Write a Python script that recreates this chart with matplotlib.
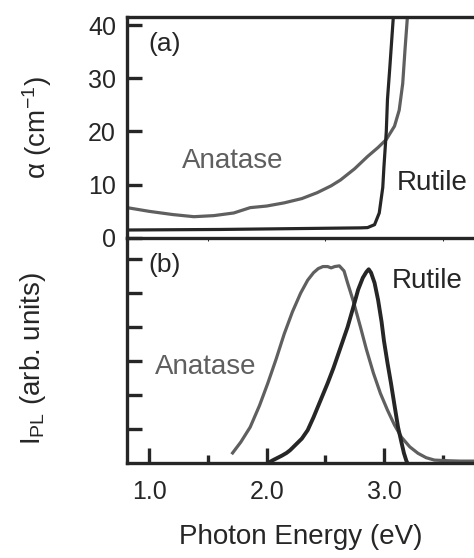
import numpy as np
import matplotlib
matplotlib.use('Agg')
import matplotlib.pyplot as plt

plt.rcParams['font.family'] = ['Liberation Sans', 'DejaVu Sans']
plt.rcParams['mathtext.fontset'] = 'custom'
plt.rcParams['mathtext.rm'] = 'Liberation Sans'
plt.rcParams['mathtext.it'] = 'Liberation Sans:italic'

# absorption (top panel), photon energy in eV, alpha in cm^-1
rutile_abs_e = [0.81, 1.2, 1.6, 2.0, 2.4, 2.8, 2.86, 2.92, 2.96, 2.99, 3.0, 3.02, 3.03, 3.05, 3.08, 3.1]
rutile_abs_a = [1.5, 1.55, 1.6, 1.7, 1.8, 1.9, 1.95, 2.5, 4.7, 9.5, 13.4, 20.0, 26.0, 32.0, 41.5, 45.0]
anatase_abs_e = [0.81, 1.0, 1.2, 1.38, 1.55, 1.72, 1.86, 2.0, 2.15, 2.3, 2.43, 2.55, 2.63, 2.75, 2.86,
                 2.95, 3.02, 3.09, 3.13, 3.16, 3.18, 3.2, 3.21]
anatase_abs_a = [5.7, 5.0, 4.4, 4.0, 4.2, 4.7, 5.7, 6.0, 6.6, 7.4, 8.5, 9.8, 10.9, 13.0, 15.3,
                 17.0, 18.5, 21.0, 24.0, 29.0, 35.5, 41.5, 45.0]

# photoluminescence (bottom panel), arb. units
anatase_pl_e = [1.71, 1.78, 1.86, 1.94, 2.01, 2.08, 2.15, 2.22, 2.29, 2.35, 2.40, 2.44, 2.48, 2.52, 2.55,
                2.58, 2.62, 2.66, 2.69, 2.74, 2.80, 2.85, 2.91, 2.97, 3.03, 3.09, 3.15, 3.22, 3.29,
                3.36, 3.43, 3.55, 3.65, 3.78]
anatase_pl_i = [0.30, 0.62, 1.06, 1.70, 2.35, 3.05, 3.80, 4.45, 5.00, 5.38, 5.60, 5.72, 5.78, 5.78, 5.74,
                5.78, 5.80, 5.65, 5.30, 4.75, 4.00, 3.35, 2.65, 2.05, 1.56, 1.12, 0.76, 0.48, 0.29,
                0.16, 0.09, 0.07, 0.06, 0.06]
rutile_pl_e = [2.01, 2.05, 2.09, 2.13, 2.17, 2.2, 2.25, 2.3, 2.35, 2.4, 2.46, 2.52, 2.57, 2.63, 2.69,
               2.74, 2.78, 2.82, 2.85, 2.87, 2.89, 2.92, 2.95, 2.98, 3.0, 3.03, 3.06, 3.09, 3.12,
               3.15, 3.17, 3.19, 3.2]
rutile_pl_i = [0.0, 0.08, 0.15, 0.22, 0.30, 0.38, 0.55, 0.72, 0.97, 1.35, 1.85, 2.35, 2.80, 3.40, 4.00,
               4.60, 5.10, 5.45, 5.62, 5.70, 5.60, 5.30, 4.80, 4.15, 3.60, 2.95, 2.35, 1.70, 1.06,
               0.60, 0.30, 0.08, 0.0]

dark = '#262626'
gray = '#5f5f5f'

fig = plt.figure(figsize=(4.74, 5.58), dpi=100)
ax2 = fig.add_axes([0.268, 0.170, 0.74, 0.4035])
ax1 = fig.add_axes([0.268, 0.5735, 0.74, 0.396], sharex=ax2)
ax1.patch.set_visible(False)
ax2.patch.set_visible(False)

ax1.plot(anatase_abs_e, anatase_abs_a, color=gray, lw=2.3)
ax1.plot(rutile_abs_e, rutile_abs_a, color=dark, lw=2.3)
ax2.plot(anatase_pl_e, anatase_pl_i, color=gray, lw=2.3)
ax2.plot(rutile_pl_e, rutile_pl_i, color=dark, lw=2.8)

ax1.set_xlim(0.81, 3.8)
ax1.set_ylim(0, 41.5)
ax2.set_ylim(0, 6.62)

for ax in (ax1, ax2):
    ax.spines['right'].set_visible(False)
    for s in ax.spines.values():
        s.set_linewidth(2.4)
        s.set_color(dark)
        s.set_clip_on(False)
    ax.tick_params(direction='in', width=2.4, length=11, color=dark,
                   labelsize=18, labelcolor=dark, pad=8)
ax2.spines['top'].set_visible(False)

ax1.set_yticks([0, 10, 20, 30, 40])
ax1.tick_params(axis='x', bottom=False, labelbottom=False)

ax2.set_yticks([1, 2, 3, 4, 5, 6])
ax2.set_yticklabels([])
ax2.set_xticks([1.0, 2.0, 3.0])
ax2.set_xticklabels(['1.0', '2.0', '3.0'])
ax2.set_xticks([1.5, 2.5, 3.5], minor=True)
ax2.tick_params(axis='x', which='major', pad=12)
ax2.tick_params(axis='x', which='minor', direction='in', width=2.4, length=6, color=dark)

ax1.text(0.06, 0.88, '(a)', transform=ax1.transAxes, fontsize=19, color=dark, va='center')
ax1.text(0.30, 0.35, 'Anatase', transform=ax1.transAxes, fontsize=20, color=gray, ha='center', va='center')
ax1.text(0.77, 0.25, 'Rutile', transform=ax1.transAxes, fontsize=20, color=dark, va='center')
ax2.text(0.06, 0.88, '(b)', transform=ax2.transAxes, fontsize=19, color=dark, va='center')
ax2.text(0.755, 0.81, 'Rutile', transform=ax2.transAxes, fontsize=20, color=dark, va='center')
ax2.text(0.08, 0.425, 'Anatase', transform=ax2.transAxes, fontsize=20, color=gray, va='center')

fig.text(37 / 474, 1 - 128 / 558, 'α (cm$^{-1}$)', rotation=90, fontsize=20, color=dark,
         ha='center', va='center')
fig.text(33 / 474, 1 - 358 / 558, r'I$_{\mathrm{PL}}$ (arb. units)', rotation=90, fontsize=20,
         color=dark, ha='center', va='center')
fig.text(301 / 474, 1 - 537 / 558, 'Photon Energy (eV)', fontsize=20, color=dark,
         ha='center', va='center')

fig.savefig('out.png', dpi=100)
